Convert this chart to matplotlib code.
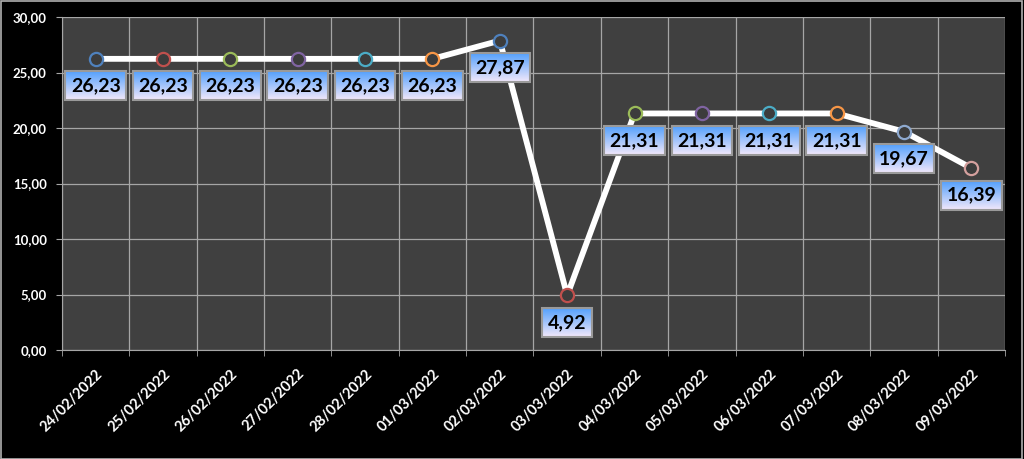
import numpy as np
import matplotlib
matplotlib.use("Agg")
import matplotlib.pyplot as plt
from matplotlib.ticker import FuncFormatter, MultipleLocator, FixedLocator
from matplotlib.patches import Rectangle

dates = ["24/02/2022", "25/02/2022", "26/02/2022", "27/02/2022", "28/02/2022",
         "01/03/2022", "02/03/2022", "03/03/2022", "04/03/2022", "05/03/2022",
         "06/03/2022", "07/03/2022", "08/03/2022", "09/03/2022"]
values = [26.23, 26.23, 26.23, 26.23, 26.23, 26.23, 27.87, 4.92,
          21.31, 21.31, 21.31, 21.31, 19.67, 16.39]
marker_colors = ["#4F81BD", "#C0504D", "#9BBB59", "#8064A2", "#4BACC6", "#F79646",
                 "#4F81BD", "#C0504D", "#9BBB59", "#8064A2", "#4BACC6", "#F79646",
                 "#8EA9CF", "#D4A09E"]

plt.rcParams['font.family'] = ['Lato', 'DejaVu Sans']

fig = plt.figure(figsize=(10.24, 4.59), dpi=100, facecolor='black')
ax = fig.add_axes([62 / 1024, 1 - 350 / 459, (1005 - 62) / 1024, (350 - 17) / 459])
ax.set_facecolor('#404040')

# outer frame of the figure
fig.patches.append(Rectangle((0.0005, 0.001), 0.998, 0.997, transform=fig.transFigure,
                             fill=False, edgecolor='#b0b0b0', linewidth=1.2))

x = np.arange(len(values))
ax.plot(x, values, color='white', linewidth=4.2, zorder=3, solid_capstyle='round')
for xi, v, c in zip(x, values, marker_colors):
    ax.plot(xi, v, 'o', markersize=9.5, markerfacecolor='#3c3c3c',
            markeredgecolor=c, markeredgewidth=1.6, zorder=4)

ax.set_xlim(-0.5, len(values) - 0.5)
ax.set_ylim(0, 30)
ax.yaxis.set_major_locator(MultipleLocator(5))
ax.yaxis.set_major_formatter(FuncFormatter(lambda v, p: f"{v:.2f}".replace('.', ',')))
ax.xaxis.set_major_locator(FixedLocator(x))
ax.xaxis.set_minor_locator(FixedLocator(np.arange(-0.5, len(values), 1.0)))
ax.set_xticklabels(dates, rotation=45, ha='right', rotation_mode='anchor')

ax.grid(True, which='major', axis='y', color='#a6a6a6', linewidth=0.9)
ax.grid(True, which='minor', axis='x', color='#a6a6a6', linewidth=0.9)
ax.set_axisbelow(True)

ax.tick_params(axis='x', which='major', length=0, pad=12, colors='white',
               labelsize=10.5)
ax.tick_params(axis='x', which='minor', length=4, color='#a6a6a6')
ax.tick_params(axis='y', length=4, color='#a6a6a6', colors='white', labelsize=9.5, pad=7)
for lab in ax.get_xticklabels() + ax.get_yticklabels():
    lab.set_fontweight('bold')
    lab.set_color('white')
for s in ['top', 'right']:
    ax.spines[s].set_visible(False)
ax.spines['left'].set_color('#a6a6a6')
ax.spines['bottom'].set_color('#a6a6a6')

labels = []
for xi, v in zip(x, values):
    t = ax.annotate(f"{v:.2f}".replace('.', ','), (xi, v), xytext=(0, -27),
                    textcoords='offset pixels', ha='center', va='center',
                    fontsize=14, fontweight='bold', color='black', zorder=7)
    labels.append(t)

# gradient boxes behind the labels: blue on top, pale lilac at the bottom
fig.canvas.draw()
renderer = fig.canvas.get_renderer()
inv = ax.transData.inverted()
top = np.array([0.33, 0.63, 0.99])
bot = np.array([0.95, 0.91, 0.98])
grad = np.linspace(0, 1, 64)[:, None, None]
img = bot * (1 - grad) + top * grad   # row 0 = bottom colour
for t in labels:
    bb = t.get_window_extent(renderer)
    cx = (bb.x0 + bb.x1) / 2
    cy = (bb.y0 + bb.y1) / 2
    w = bb.width + 11
    h = 29
    (x0, y0) = inv.transform((cx - w / 2, cy - h / 2))
    (x1, y1) = inv.transform((cx + w / 2, cy + h / 2))
    ax.imshow(img, extent=(x0, x1, y0, y1), aspect='auto', zorder=5,
              interpolation='bilinear', origin='lower')
    ax.add_patch(Rectangle((x0, y0), x1 - x0, y1 - y0, fill=False,
                           edgecolor='#9a9a9a', linewidth=1.5, zorder=6))

ax.set_xlim(-0.5, len(values) - 0.5)
ax.set_ylim(0, 30)

fig.savefig("out.png", dpi=100, facecolor='black')
